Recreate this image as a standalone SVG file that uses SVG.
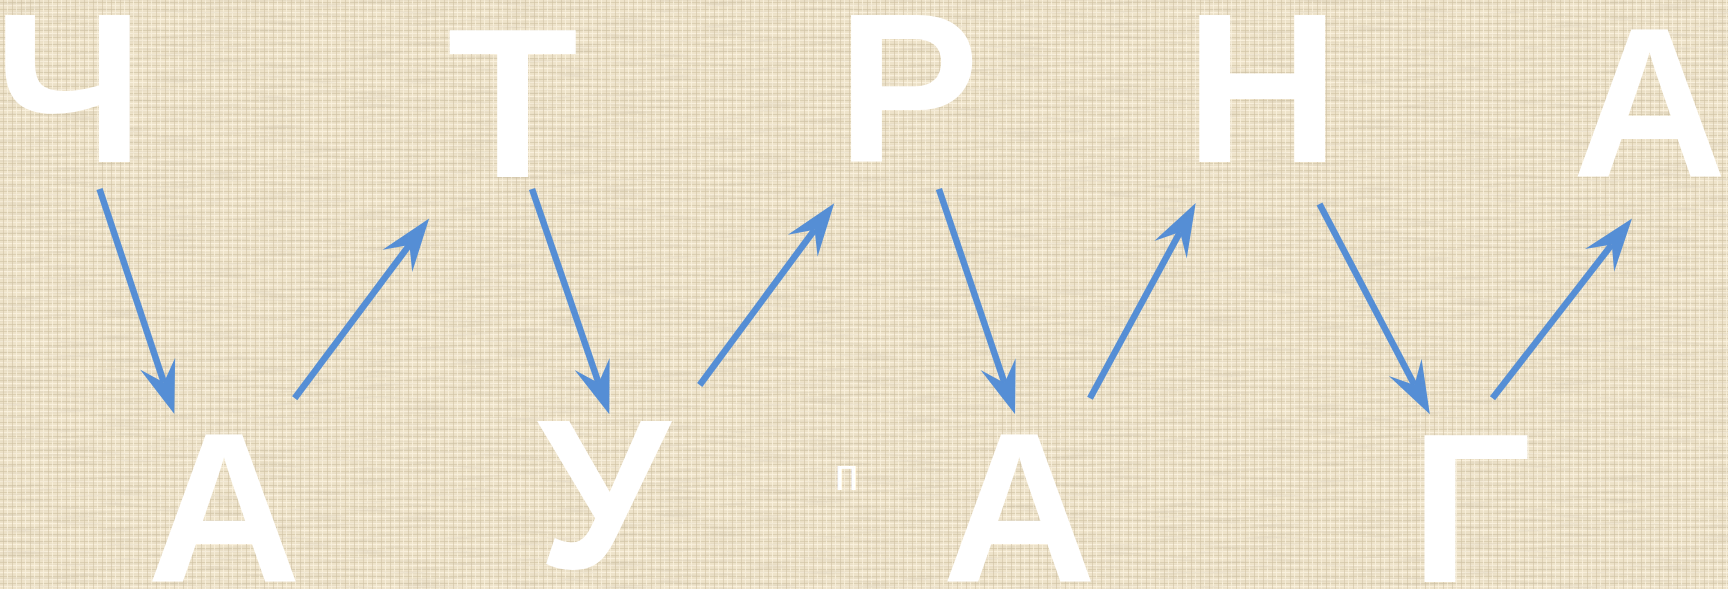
<svg xmlns="http://www.w3.org/2000/svg" width="1728" height="589" viewBox="0 0 1728 589">
  <defs>
    <style>
      .big { font-family: "Liberation Sans", Arial, sans-serif; font-weight: bold; font-size: 214px; fill: #ffffff; text-anchor: middle; }
      .small { font-family: "Liberation Sans", Arial, sans-serif; font-size: 44px; fill: #ffffff; text-anchor: middle; }
      .arrow { stroke: #558ED5; stroke-width: 6.5; fill: none; marker-end: url(#head); }
    </style>
    <marker id="head" markerUnits="userSpaceOnUse" orient="auto" refX="0" refY="0" markerWidth="60" markerHeight="40" overflow="visible">
      <path d="M33,0 L-20,-18.5 L0,0 L-20,18.5 Z" fill="#558ED5"/>
    </marker>
    <pattern id="linen" width="9" height="7" patternUnits="userSpaceOnUse">
      <rect width="9" height="7" fill="#EEE3CA"/>
      <rect x="0" y="2" width="9" height="1" fill="#D4C6A8" opacity="0.7"/>
      <rect x="0" y="5" width="9" height="1" fill="#FBF4E2" opacity="0.8"/>
      <rect x="3" y="0" width="1" height="7" fill="#D0C2A3" opacity="0.6"/>
      <rect x="7" y="0" width="1" height="7" fill="#FAF2DE" opacity="0.8"/>
    </pattern>
    <filter id="grain" x="0" y="0" width="100%" height="100%">
      <feTurbulence type="fractalNoise" baseFrequency="0.02 0.35" numOctaves="2" seed="3" result="n"/>
      <feColorMatrix in="n" type="matrix" values="0 0 0 0 0.55  0 0 0 0 0.48  0 0 0 0 0.36  0 0 0 1.2 -0.55"/>
    </filter>
  </defs>
  <rect id="background" width="1728" height="589" fill="url(#linen)"/>
  <rect width="1728" height="589" filter="url(#grain)" opacity="0.6"/>

  <g id="connectors">
    <line class="arrow" x1="99.5" y1="189" x2="163.9" y2="382.6"/>
    <line class="arrow" x1="294.7" y1="398.3" x2="409.4" y2="244.9"/>
    <line class="arrow" x1="532" y1="189" x2="598.6" y2="383"/>
    <line class="arrow" x1="699.7" y1="385" x2="814.6" y2="229.7"/>
    <line class="arrow" x1="938.9" y1="189" x2="1004.5" y2="383"/>
    <line class="arrow" x1="1090" y1="398.3" x2="1180" y2="232.1"/>
    <line class="arrow" x1="1319.5" y1="204" x2="1414.5" y2="385"/>
    <line class="arrow" x1="1492.5" y1="398.3" x2="1611.8" y2="244.6"/>
  </g>

  <g id="letter-ch"><text class="big" x="69" y="162">Ч</text></g>
  <g id="letter-a1"><text class="big" x="224" y="582">А</text></g>
  <g id="letter-t"><text class="big" x="512.5" y="177">Т</text></g>
  <g id="letter-u"><text class="big" x="603.5" y="568">У</text></g>
  <g id="letter-r"><text class="big" x="908" y="162">Р</text></g>
  <g id="letter-p-small"><text class="small" x="847" y="490">п</text></g>
  <g id="letter-a2"><text class="big" x="1019.3" y="582">А</text></g>
  <g id="letter-n"><text class="big" x="1262.3" y="162">Н</text></g>
  <g id="letter-g"><text class="big" x="1471" y="582">Г</text></g>
  <g id="letter-a3"><text class="big" x="1649.5" y="177">А</text></g>
</svg>
